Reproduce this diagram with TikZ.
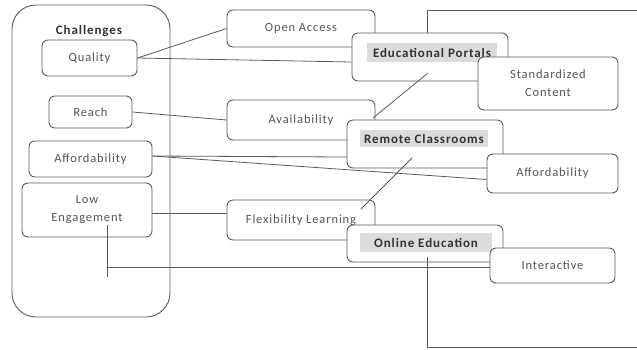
\documentclass[tikz,border=0pt]{standalone}
\usepackage{fontspec}
\setmainfont{Carlito}[LetterSpace=7]
\usetikzlibrary{calc}
\definecolor{edge}{HTML}{5A5A5A}
\definecolor{ink}{HTML}{555555}
\definecolor{hl}{HTML}{DCDCDC}
\tikzset{
  box/.style={draw=edge, line width=0.9pt, rounded corners=6pt, fill=white,
    inner sep=0pt, align=center, text=ink,
    font=\fontsize{12.5}{18}\selectfont},
  frame/.style={draw=edge, line width=0.9pt, rounded corners=24pt, inner sep=0pt},
  heading/.style={fill=hl, inner sep=0pt, text=black!80,
    font=\bfseries\fontsize{13}{16}\selectfont},
  title/.style={inner sep=0pt, text=black!80, font=\bfseries\fontsize{13}{16}\selectfont},
  link/.style={draw=edge, line width=0.8pt},
}
\begin{document}
\begin{tikzpicture}[x=1pt, y=-1pt]
\useasboundingbox (0,0) rectangle (637,349);

% Challenges column
\node[frame, minimum width=158pt, minimum height=312pt] (chal) at (91,161) {};
\node[title] (chaltitle) at (89,31) {Challenges};
\node[box, minimum width=95pt, minimum height=36pt] (quality) at (89.5,58) {Quality};
\node[box, minimum width=83pt, minimum height=32pt] (reach) at (90.5,112) {Reach};
\node[box, minimum width=123pt, minimum height=36pt] (afford) at (90.5,159) {Affordability};
\node[box, minimum width=130pt, minimum height=54pt] (loweng) at (87,210) {Low\\Engagement};

% middle column
\node[box, minimum width=148pt, minimum height=37pt] (openacc) at (301,28.5) {Open Access};
\node[box, minimum width=156pt, minimum height=48pt] (edport) at (430,57) {};
\node[heading, minimum width=130pt, minimum height=19pt] (edporttxt) at (432,52.5) {Educational Portals};
\node[box, minimum width=140pt, minimum height=53pt] (stdcont) at (548,83.5) {Standardized\\Content};

\node[box, minimum width=148pt, minimum height=40pt] (avail) at (301,120) {Availability};
\node[box, minimum width=156pt, minimum height=48pt] (remote) at (425,144) {};
\node[heading, minimum width=128pt, minimum height=17pt] (remotetxt) at (424,138.5) {Remote Classrooms};
\node[box, minimum width=131pt, minimum height=39pt] (affordR) at (552.5,173.5) {Affordability};

\node[box, minimum width=148pt, minimum height=40pt] (flex) at (301,220) {Flexibility Learning};
\node[box, minimum width=156pt, minimum height=37pt] (online) at (425,243.5) {};
\node[heading, minimum width=132pt, minimum height=19pt] (onlinetxt) at (426,242.5) {Online Education};
\node[box, minimum width=125pt, minimum height=35pt] (interact) at (552.5,265.5) {Interactive};

% helper points
\coordinate (engdrop) at (107,225);
\coordinate (engfoot) at (107,277);
\coordinate (engturn) at (107,267);
\coordinate (portalsrc) at (428,73);
\coordinate (portaldst) at (373,118);
\coordinate (remotesrc) at (412,158);
\coordinate (remotedst) at (361,209);
\coordinate (bigtl) at (427,10);
\coordinate (bigtr) at (640,10);
\coordinate (bigsrc) at (427,257);
\coordinate (bigbl) at (427,347);
\coordinate (bigbr) at (640,347);

% connectors
\draw[link] (quality.east) -- (openacc.west);
\draw[link] (quality.east) -- ($(edport.west)+(0,5)$);
\draw[link] (reach.east) -- (avail.west);
\draw[link] ($(afford.east)+(0,-3)$) -- ($(remote.west)+(0,13)$);
\draw[link] ($(afford.east)+(0,-3)$) -- ($(affordR.west)+(0,6)$);
\draw[link] ($(loweng.east)+(0,3)$) -- (flex.west |- {$(loweng.east)+(0,3)$});
\draw[link] (engdrop) -- (engfoot);
\draw[link] (engturn) -- (interact.west |- engturn);
\draw[link] (portalsrc) -- (portaldst);
\draw[link] (remotesrc) -- (remotedst);
\draw[link] (edport.north -| bigtl) -- (bigtl) -- (bigtr);
\draw[link] (bigsrc) -- (bigbl) -- (bigbr);
\end{tikzpicture}
\end{document}
